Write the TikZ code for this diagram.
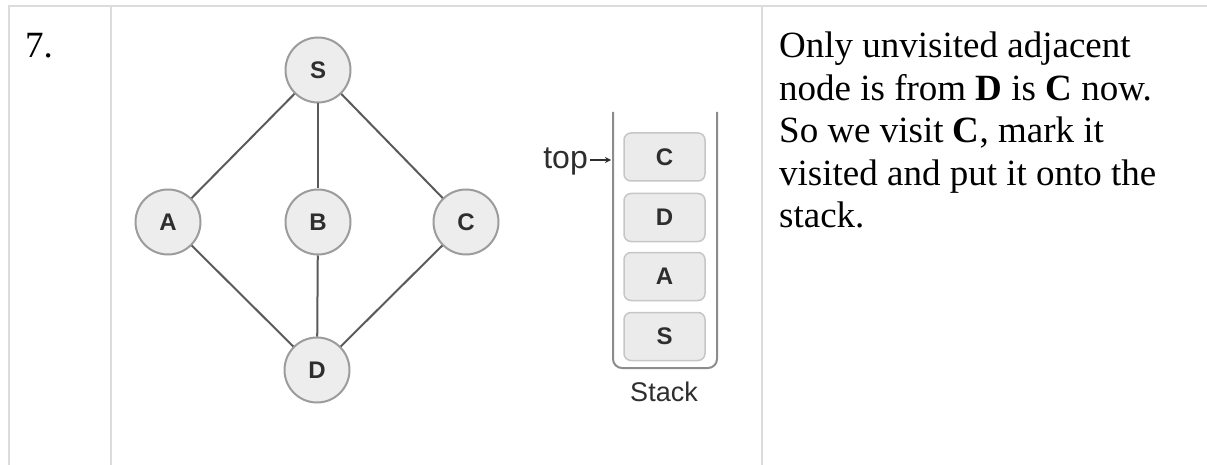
\documentclass[tikz,border=0pt]{standalone}
\usepackage{fontspec}
\setmainfont{Liberation Serif}
\newfontfamily\arialfont{Liberation Sans}
\usetikzlibrary{arrows.meta}
\definecolor{gridline}{HTML}{DCDCDC}
\definecolor{edgecol}{HTML}{5A5A5A}
\definecolor{circfill}{HTML}{EDEDED}
\definecolor{circdraw}{HTML}{9C9C9C}
\definecolor{boxfill}{HTML}{EBEBEB}
\definecolor{boxdraw}{HTML}{C6C6C6}
\definecolor{wallcol}{HTML}{8C8C8C}
\definecolor{lettercol}{HTML}{2E2E2E}
\tikzset{
  grid/.style={draw=gridline, line width=2pt},
  gnode/.style={circle, fill=circfill, draw=circdraw, line width=2pt, minimum size=65pt, inner sep=0pt,
    text=lettercol, font=\arialfont\bfseries\fontsize{24}{24}\selectfont},
  gedge/.style={draw=edgecol, line width=2pt},
  stackbox/.style={rectangle, rounded corners=7pt, fill=boxfill, draw=boxdraw, line width=1.5pt,
    minimum width=81pt, minimum height=48pt, inner sep=0pt,
    text=lettercol, font=\arialfont\bfseries\fontsize{24}{24}\selectfont},
  wall/.style={draw=wallcol, line width=2pt, rounded corners=9pt},
  label/.style={inner sep=0pt, text=lettercol, font=\arialfont\fontsize{27}{27}\selectfont},
  txt/.style={inner sep=0pt, anchor=base west, font=\fontsize{37}{42.5}\selectfont}
}
\begin{document}
\begin{tikzpicture}[x=1pt,y=-1pt]
\useasboundingbox (0,0) rectangle (1207,465);
% table lines
\draw[grid] (8,6.5) -- (1207,6.5);
\draw[grid] (9,6) -- (9,465);
\draw[grid] (110.5,6) -- (110.5,465);
\draw[grid] (762,6) -- (762,465);
% step number
\node[txt] (num) at (25,58) {7.};
% graph
\node[gnode] (S) at (318,70) {S};
\node[gnode] (A) at (168,222) {A};
\node[gnode] (B) at (318,222) {B};
\node[gnode] (C) at (466,222) {C};
\node[gnode] (D) at (317,370) {D};
\draw[gedge] (S) -- (A);
\draw[gedge] (S) -- (B);
\draw[gedge] (S) -- (C);
\draw[gedge] (A) -- (D);
\draw[gedge] (B) -- (D);
\draw[gedge] (C) -- (D);
% stack
\draw[wall] (613,112) -- (613,368) -- (717,368) -- (717,112);
\node[stackbox] (sC) at (664.5,157) {C};
\node[stackbox] (sD) at (664.5,217.5) {D};
\node[stackbox] (sA) at (664.5,276.5) {A};
\node[stackbox] (sS) at (664.5,336.5) {S};
\node[label, anchor=base east, font=\arialfont\fontsize{32}{32}\selectfont] (top) at (588,169) {top};
\coordinate (topend) at (611,160);
\draw[draw=lettercol, line width=1.2pt, -{Stealth[length=6pt,width=6pt]}] (top.east |- topend) ++(2,0) -- (topend);
\node[label, anchor=base] (stk) at (664,401) {Stack};
% description
\node[txt] (l1) at (779,58) {Only unvisited adjacent};
\node[txt] (l2) at (779,100.5) {node is from \textbf{D} is \textbf{C} now.};
\node[txt] (l3) at (779,143) {So we visit \textbf{C}, mark it};
\node[txt] (l4) at (779,185.5) {visited and put it onto the};
\node[txt] (l5) at (779,228) {stack.};
\end{tikzpicture}
\end{document}
